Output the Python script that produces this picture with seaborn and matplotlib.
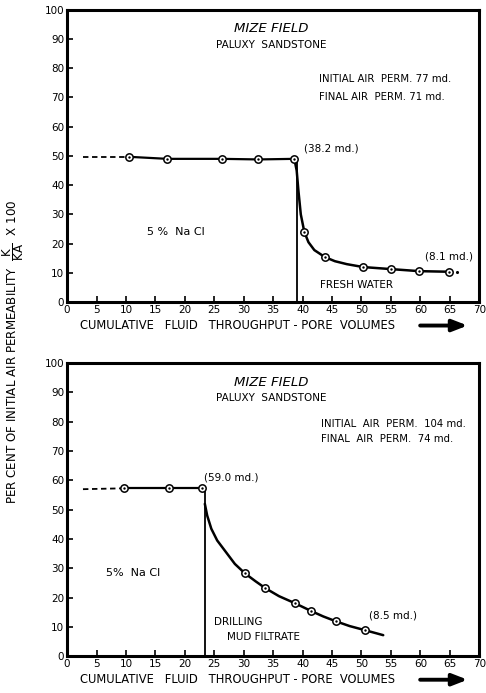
import numpy as np
import pandas as pd
import seaborn as sns
import matplotlib.pyplot as plt

sns.set_style("ticks")
plt.rcParams['font.family'] = ['Liberation Sans Narrow', 'DejaVu Sans']
plt.rcParams['text.color'] = 'black'
plt.rcParams['xtick.color'] = 'black'
plt.rcParams['ytick.color'] = 'black'
plt.rcParams['axes.edgecolor'] = 'black'

# ---- data ----
# top panel (fresh water)
top_brine_x = [10.5, 17.0, 26.3, 32.5, 38.6]
top_brine_y = [49.7, 49.0, 49.0, 48.8, 49.0]
top_dash_x = [2.7, 10.5]
top_dash_y = [49.7, 49.7]
top_fresh_x = [40.3, 43.8, 50.3, 55.0, 59.8, 64.8]
top_fresh_y = [24.0, 15.4, 12.0, 11.3, 10.6, 10.4]
# points along the drawn curve (no markers)
top_curve_x = [38.6, 39.0, 39.3, 39.7, 40.3, 41.0, 42.0, 43.8, 45.5, 47.5,
               50.3, 55.0, 59.8, 64.8]
top_curve_y = [49.0, 45.0, 38.0, 30.0, 24.0, 20.5, 17.8, 15.4, 14.0, 13.0,
               12.0, 11.3, 10.6, 10.4]
top_switch = 39.0
top_tail_x = [66.2]
top_tail_y = [10.4]

# bottom panel (drilling mud filtrate)
bot_brine_x = [9.7, 17.3, 22.9]
bot_brine_y = [57.3, 57.3, 57.3]
bot_dash_x = [2.7, 9.7]
bot_dash_y = [57.0, 57.3]
bot_mud_x = [30.2, 33.7, 38.7, 41.5, 45.7, 50.6]
bot_mud_y = [28.3, 23.2, 18.1, 15.4, 11.9, 8.9]
bot_curve_x = [23.4, 23.8, 24.5, 25.5, 27.0, 28.5, 30.2, 32.0, 33.7, 36.0,
               38.7, 41.5, 43.5, 45.7, 48.0, 50.6, 53.7]
bot_curve_y = [52.0, 48.0, 43.5, 39.5, 35.5, 31.5, 28.3, 25.6, 23.2, 20.5,
               18.1, 15.4, 13.6, 11.9, 10.3, 8.9, 7.2]
bot_switch = 23.4

x_ticks = list(range(0, 75, 5))
y_ticks = list(range(0, 110, 10))

fig = plt.figure(figsize=(4.86, 6.93), dpi=100)
ax_top = fig.add_axes([0.138, 0.564, 0.848, 0.422])
ax_bot = fig.add_axes([0.138, 0.053, 0.848, 0.423])


def draw_panel(ax, dash_x, dash_y, brine_x, brine_y, curve_x, curve_y,
               pts_x, pts_y, switch, brine_top):
    sns.lineplot(x=dash_x, y=dash_y, ax=ax, color='black', lw=1.3,
                 linestyle=(0, (3, 2)), sort=False)
    sns.lineplot(x=brine_x, y=brine_y, ax=ax, color='black', lw=1.6, sort=False)
    sns.lineplot(x=curve_x, y=curve_y, ax=ax, color='black', lw=1.8, sort=False)
    ax.plot([switch, switch], [0, brine_top], color='black', lw=1.3)
    px = brine_x + pts_x
    py = brine_y + pts_y
    sns.scatterplot(x=px, y=py, ax=ax, s=28, facecolor='white',
                    edgecolor='black', linewidth=1.1, zorder=5)
    sns.scatterplot(x=px, y=py, ax=ax, s=3, color='black', linewidth=0, zorder=6)

    ax.set_xlim(0, 70)
    ax.set_ylim(0, 100)
    ax.set_xticks(x_ticks)
    ax.set_yticks(y_ticks)
    ax.set_xticklabels([str(t) for t in x_ticks], fontsize=7.5)
    ax.set_yticklabels([str(t) for t in y_ticks], fontsize=7.5)
    ax.tick_params(axis='both', direction='in', length=4, width=1.2, pad=2)
    for s in ax.spines.values():
        s.set_linewidth(2.2)
        s.set_visible(True)
    ax.set_xlabel('')
    ax.set_ylabel('')

    ax.text(34.6, 93.5, 'MIZE FIELD', style='italic', fontsize=9.5,
            ha='center', va='center', family='DejaVu Sans')
    ax.text(34.6, 88.0, 'PALUXY  SANDSTONE', fontsize=7.5,
            ha='center', va='center', family='DejaVu Sans')
    # x label with arrow
    ax.text(29.0, -8.0, 'CUMULATIVE   FLUID   THROUGHPUT - PORE  VOLUMES',
            fontsize=8.3, ha='center', va='center', family='DejaVu Sans',
            clip_on=False)
    ax.annotate('', xy=(68.5, -8.0), xytext=(59.5, -8.0),
                xycoords='data', annotation_clip=False,
                arrowprops=dict(arrowstyle='-|>,head_length=0.9,head_width=0.35',
                                color='black', lw=2.8))


draw_panel(ax_top, top_dash_x, top_dash_y, top_brine_x, top_brine_y,
           top_curve_x, top_curve_y, top_fresh_x, top_fresh_y, top_switch, 49.0)
sns.scatterplot(x=top_tail_x, y=top_tail_y, ax=ax_top, s=5, color='black',
                linewidth=0)
draw_panel(ax_bot, bot_dash_x, bot_dash_y, bot_brine_x, bot_brine_y,
           bot_curve_x, bot_curve_y, bot_mud_x, bot_mud_y, bot_switch, 57.3)

# top panel annotations
ax_top.text(42.8, 76.4, 'INITIAL AIR  PERM. 77 md.', fontsize=7.3, va='center')
ax_top.text(42.8, 70.2, 'FINAL AIR  PERM. 71 md.', fontsize=7.3, va='center')
ax_top.text(40.2, 52.7, '(38.2 md.)', fontsize=7.5, va='center')
ax_top.text(13.5, 24.0, '5 %  Na Cl', fontsize=8, va='center', family='DejaVu Sans')
ax_top.text(43.0, 5.8, 'FRESH WATER', fontsize=7.5, va='center', family='DejaVu Sans')
ax_top.text(60.8, 15.7, '(8.1 md.)', fontsize=7.5, va='center')

# bottom panel annotations
ax_bot.text(43.2, 79.2, 'INITIAL  AIR  PERM.  104 md.', fontsize=7.3, va='center')
ax_bot.text(43.2, 74.0, 'FINAL  AIR  PERM.  74 md.', fontsize=7.3, va='center')
ax_bot.text(23.2, 61.0, '(59.0 md.)', fontsize=7.5, va='center')
ax_bot.text(6.6, 28.3, '5%  Na Cl', fontsize=8, va='center', family='DejaVu Sans')
ax_bot.text(25.0, 11.6, 'DRILLING', fontsize=7.5, va='center', family='DejaVu Sans')
ax_bot.text(27.1, 6.5, 'MUD FILTRATE', fontsize=7.5, va='center', family='DejaVu Sans')
ax_bot.text(51.3, 14.0, '(8.5 md.)', fontsize=7.5, va='center')

fig.text(0.027, 0.492,
         r'PER CENT OF INITIAL AIR PERMEABILITY  $\dfrac{\mathrm{K}}{\mathrm{KA}}$  X 100',
         rotation=90, fontsize=8.6, ha='center', va='center', family='DejaVu Sans')

fig.savefig('out.png', dpi=100)
